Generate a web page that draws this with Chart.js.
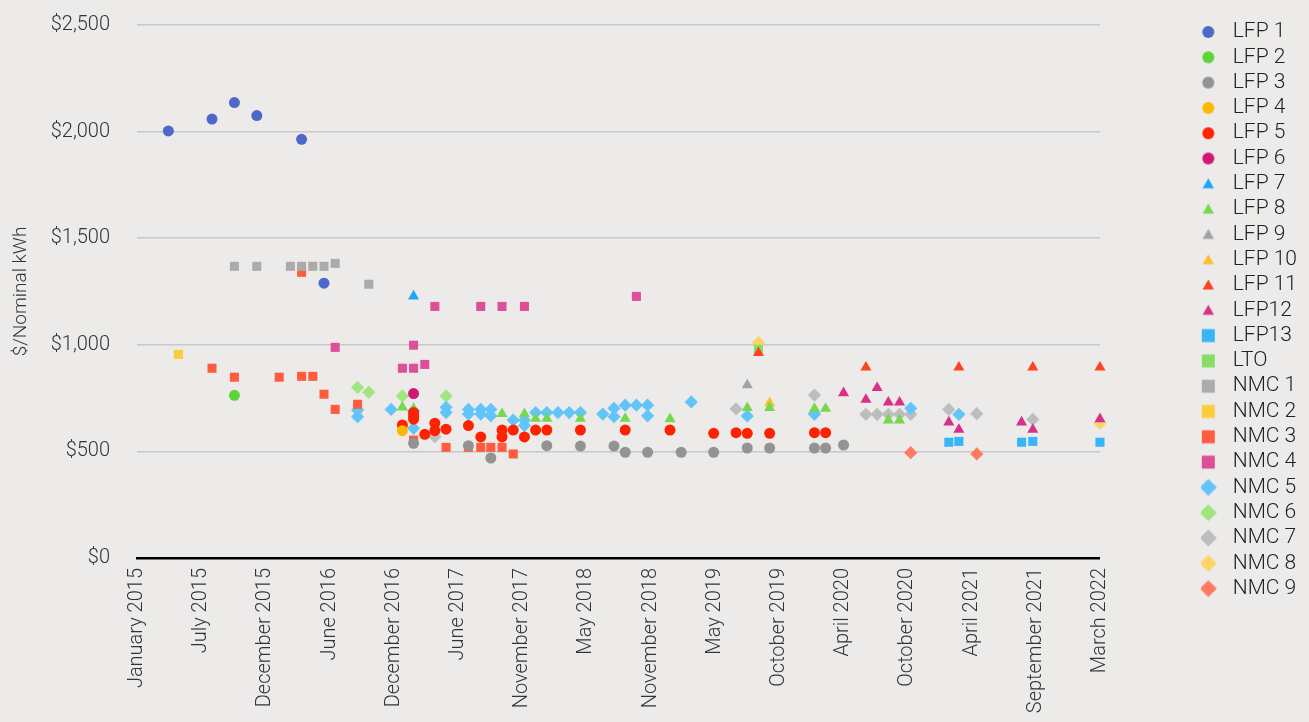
<!DOCTYPE html>
<html><head><meta charset="utf-8">
<script src="https://cdn.jsdelivr.net/npm/chart.js@4/dist/chart.umd.min.js"></script>
<style>
html,body{margin:0;padding:0;background:#ecebea;}
#wrap{width:1309px;height:722px;position:relative;}
</style>
</head><body>
<div id="wrap"><canvas id="c"></canvas></div>
<script>
// x = months since January 2015, y = $/Nominal kWh
const tickLabels = ['January 2015','July 2015','December 2015','June 2016','December 2016','June 2017','November 2017','May 2018','November 2018','May 2019','October 2019','April 2020','October 2020','April 2021','September 2021','March 2022'];
const xMax = 86;
const yTicks = [0, 500, 1000, 1500, 2000, 2500];

const LFP_1 = [[2.8,2003],[6.7,2059],[8.7,2136],[10.7,2075],[14.7,1964],[16.7,1289]];
const LFP_2 = [[8.7,763]];
const LFP_3 = [[24.7,538],[29.6,527],[31.6,469],[36.6,527],[39.6,525],[42.6,525],[43.6,496],[45.6,496],[48.6,496],[51.5,496],[54.5,516],[56.5,516],[60.5,516],[61.5,516],[63.1,530]];
const LFP_4 = [[23.7,597]];
const LFP_5 = [[23.7,624],[24.7,682],[24.7,665],[24.7,651],[25.7,580],[26.6,632],[26.6,597],[27.6,604],[29.6,621],[30.7,568],[32.6,600],[32.6,568],[33.6,600],[34.6,568],[35.6,600],[36.6,600],[39.6,600],[43.6,600],[47.6,600],[51.5,585],[53.5,588],[54.5,585],[56.5,585],[60.5,588],[61.5,588]];
const LFP_6 = [[24.7,771]];
const LFP_7 = [[24.7,1228]];
const LFP_8 = [[23.7,707],[24.7,700],[32.6,676],[34.6,676],[35.6,654],[36.6,654],[39.6,654],[43.6,654],[47.6,652],[54.5,704],[56.5,704],[60.5,701],[61.5,701],[67.1,646],[68.1,646]];
const LFP_9 = [[54.5,811]];
const LFP_10 = [[56.5,727]];
const LFP_11 = [[55.5,962],[65.1,894],[73.4,894],[80.0,894],[86,894]];
const LFP_12 = [[63.1,774],[65.1,743],[66.1,798],[67.1,730],[68.1,730],[72.5,637],[73.4,602],[79.0,637],[80.0,602],[86,652]];
const LFP_13 = [[72.5,543],[73.4,547],[79.0,543],[80.0,547],[86,543]];
const LTO = [[55.5,979]];
const NMC_1 = [[8.7,1368],[10.7,1368],[13.7,1368],[14.7,1368],[15.7,1368],[16.7,1368],[17.7,1382],[20.7,1284]];
const NMC_2 = [[3.7,955]];
const NMC_3 = [[6.7,890],[8.7,848],[12.7,848],[14.7,1340],[14.7,852],[15.7,852],[16.7,768],[17.7,697],[19.7,721],[24.7,553],[27.6,519],[29.6,519],[30.7,519],[31.6,519],[32.6,519],[33.6,488]];
const NMC_4 = [[17.7,988],[23.7,890],[24.7,890],[24.7,998],[25.7,908],[26.6,1180],[30.7,1180],[32.6,1180],[34.6,1180],[44.6,1227]];
const NMC_5 = [[19.7,694],[19.7,663],[22.7,697],[24.7,690],[24.7,608],[27.6,707],[27.6,682],[29.6,697],[29.6,675],[30.7,697],[30.7,675],[31.6,697],[31.6,667],[33.6,647],[34.6,647],[34.6,621],[35.6,682],[36.6,682],[37.6,682],[38.6,682],[39.6,682],[41.6,675],[42.6,702],[42.6,663],[43.6,717],[44.6,717],[45.6,717],[45.6,667],[49.5,732],[54.5,666],[60.5,674],[69.1,702],[73.4,674]];
const NMC_6 = [[19.7,800],[20.7,777],[23.7,760],[27.6,760]];
const NMC_7 = [[26.6,569],[53.5,699],[60.5,764],[60.5,679],[65.1,674],[66.1,674],[67.1,674],[68.1,674],[69.1,674],[72.5,697],[75.0,677],[80.0,650]];
const NMC_8 = [[55.5,1010],[86,632]];
const NMC_9 = [[69.1,494],[75.0,488]];

const seriesNames = ['LFP 1','LFP 2','LFP 3','LFP 4','LFP 5','LFP 6','LFP 7','LFP 8','LFP 9','LFP 10','LFP 11','LFP12','LFP13','LTO','NMC 1','NMC 2','NMC 3','NMC 4','NMC 5','NMC 6','NMC 7','NMC 8','NMC 9'];
const seriesData = [LFP_1,LFP_2,LFP_3,LFP_4,LFP_5,LFP_6,LFP_7,LFP_8,LFP_9,LFP_10,LFP_11,LFP_12,LFP_13,LTO,NMC_1,NMC_2,NMC_3,NMC_4,NMC_5,NMC_6,NMC_7,NMC_8,NMC_9];
const seriesColors = ['#4e67c8','#5fd43a','#939393','#fbba00','#ff2200','#d21874','#1ca8f4','#74d94e','#a3a3a3','#f9c02e','#ff4221','#da2f88','#38b4f8','#86de66','#ababab','#fccc3c','#ff5c3f','#de4f9a','#63c4fa','#a0e67f','#bdbdbd','#fdd466','#ff7b60'];
const seriesShapes = ['circle','circle','circle','circle','circle','circle','triangle','triangle','triangle','triangle','triangle','triangle','rect','rect','rect','rect','rect','rect','rectRot','rectRot','rectRot','rectRot','rectRot'];

const shapeRadius = {circle:5.5, triangle:6.4, rect:6.4, rectRot:6.6};

// legend icons (sized like the reference legend markers)
function legendIcon(shape, color) {
  const c = document.createElement('canvas');
  c.width = 40; c.height = 20;
  const g = c.getContext('2d');
  g.fillStyle = color;
  const cx = 14.5, cy = 10;
  g.beginPath();
  if (shape === 'circle') g.arc(cx, cy, 6, 0, 2 * Math.PI);
  else if (shape === 'triangle') { g.moveTo(cx, cy - 5.5); g.lineTo(cx + 5.7, cy + 4.5); g.lineTo(cx - 5.7, cy + 4.5); g.closePath(); }
  else if (shape === 'rect') g.rect(cx - 6.5, cy - 6.5, 13, 13);
  else { g.moveTo(cx, cy - 8.5); g.lineTo(cx + 8.5, cy); g.lineTo(cx, cy + 8.5); g.lineTo(cx - 8.5, cy); g.closePath(); }
  g.fill();
  return c;
}
const legendIcons = seriesShapes.map((s, i) => legendIcon(s, seriesColors[i]));

const datasets = seriesNames.map((name, i) => ({
  label: name,
  data: seriesData[i].map(p => ({x: p[0], y: p[1]})),
  pointStyle: seriesShapes[i],
  pointRadius: shapeRadius[seriesShapes[i]],
  pointHoverRadius: shapeRadius[seriesShapes[i]],
  backgroundColor: seriesColors[i],
  borderColor: seriesColors[i],
  pointBorderWidth: 0,
  borderWidth: 0,
  showLine: false,
  clip: false
}));

const FONT = 'Roboto, "Open Sans", sans-serif';

const legendShift = {
  id: 'legendShift',
  afterLayout(chart) {
    const dy = -7.8;
    chart.legend.top += dy;
    chart.legend.bottom += dy;
  }
};

new Chart(document.getElementById('c'), {
  type: 'scatter',
  data: { datasets },
  plugins: [legendShift],
  options: {
    responsive: true,
    maintainAspectRatio: false,
    animation: false,
    layout: { padding: { top: 25, right: 2, bottom: 0, left: 0 } },
    plugins: {
      tooltip: { enabled: false },
      legend: {
        position: 'right',
        align: 'start',
        labels: {
          usePointStyle: true,
          boxWidth: 17,
          boxHeight: 10,
          padding: 4.3,
          color: '#222222',
          font: { family: FONT, size: 21, weight: '300' },
          generateLabels: chart => {
            const items = Chart.defaults.plugins.legend.labels.generateLabels(chart);
            items.forEach(it => { it.pointStyle = legendIcons[it.datasetIndex]; it.lineWidth = 0; });
            return items;
          }
        }
      }
    },
    scales: {
      x: {
        type: 'linear',
        min: 0,
        max: xMax,
        afterBuildTicks: s => { s.ticks = tickLabels.map((_, i) => ({ value: i * xMax / (tickLabels.length - 1) })); },
        afterFit: s => { s.height = 164; },
        grid: { display: false, drawTicks: false },
        border: { display: true, color: '#000000', width: 2.5 },
        ticks: {
          autoSkip: false,
          maxRotation: 90,
          minRotation: 90,
          padding: 10,
          color: '#333333',
          font: { family: FONT, size: 20, weight: '300' },
          callback: (v, i) => tickLabels[i]
        }
      },
      y: {
        min: 0,
        max: 2500,
        afterBuildTicks: s => { s.ticks = yTicks.map(v => ({ value: v })); },
        afterFit: s => { s.width = 137; s.paddingTop = 0; s.paddingBottom = 0; },
        grid: { color: '#c8c8c8', lineWidth: 1.5, drawTicks: false },
        border: { display: false },
        ticks: {
          padding: 27,
          color: '#333333',
          font: { family: FONT, size: 20, weight: '300' },
          callback: v => '$' + v.toLocaleString('en-US')
        },
        title: {
          display: true,
          text: '$/Nominal kWh',
          color: '#333333',
          padding: { top: 10, bottom: 0 },
          font: { family: FONT, size: 19, weight: '300' }
        }
      },
      yR: {
        position: 'right',
        display: true,
        afterFit: s => { s.width = 101; s.paddingTop = 0; s.paddingBottom = 0; },
        grid: { display: false, drawTicks: false },
        border: { display: false },
        ticks: { display: false }
      }
    }
  }
});
</script>
</body></html>
